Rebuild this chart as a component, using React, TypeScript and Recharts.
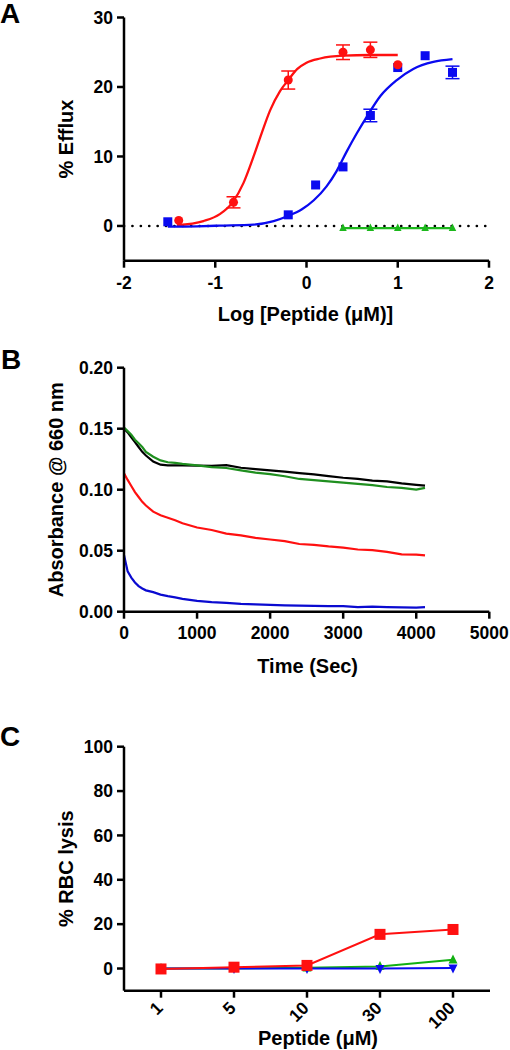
import { ComposedChart, LineChart, Line, Scatter, XAxis, YAxis, ErrorBar, ReferenceLine, Label } from 'recharts'

// fonts: Arial-like bold everywhere
const FONT = '"Liberation Sans", Arial, sans-serif'
const tickStyle = { fontFamily: FONT, fontWeight: 700, fontSize: 17.5, fill: '#000' }
const titleStyle = { fontFamily: FONT, fontWeight: 700, fontSize: 20, fill: '#000' }

// ---- Panel A: calcein efflux vs log[peptide] ----
const redFitX = [-1.42, -1.13, -0.95, -0.81, -0.69, -0.58, -0.49, -0.4, -0.29, -0.2, -0.1, 0.0, 0.15, 0.4, 0.7, 1.0]
const redFitY = [0.1, 0.7, 1.7, 3.4, 6.2, 10.0, 13.4, 16.6, 19.4, 21.0, 22.6, 23.5, 24.1, 24.5, 24.6, 24.6]
const blueFitX = [-1.52, -1.2, -0.95, -0.58, -0.36, -0.21, -0.05, 0.08, 0.22, 0.33, 0.44, 0.55, 0.66, 0.81, 0.99, 1.17, 1.39, 1.6]
const blueFitY = [-0.1, -0.05, 0.05, 0.2, 0.7, 1.4, 2.4, 3.7, 5.7, 7.9, 10.7, 13.3, 15.7, 18.7, 21.0, 22.6, 23.6, 24.0]

const redPtX = [-1.4, -0.8, -0.2, 0.4, 0.7, 1.0]
const redPtY = [0.8, 3.4, 21.0, 25.0, 25.35, 23.2]
const redPtErr = [0, 0.8, 1.3, 1.05, 1.1, 0]
const bluePtX = [-1.52, -0.2, 0.1, 0.4, 0.7, 1.0, 1.3, 1.6]
const bluePtY = [0.6, 1.6, 5.9, 8.5, 15.9, 22.8, 24.5, 22.1]
const bluePtErr = [0, 0, 0, 0, 0.9, 0, 0, 0.9]
const greenPtX = [0.4, 0.7, 1.0, 1.3, 1.6]
const greenPtY = [-0.3, -0.3, -0.3, -0.3, -0.3]

const logTicks = [-2, -1, 0, 1, 2]
const effluxTicks = [0, 10, 20, 30]

// ---- Panel B: absorbance time course ----
const timeSec = [0, 50, 100, 150, 200, 250, 300, 400, 500, 600, 700, 800, 1000, 1200, 1400, 1600, 1800, 2000, 2200, 2400, 2600, 2800, 3000, 3200, 3400, 3600, 3800, 4000, 4120]
const absBlack = [0.150, 0.147, 0.143, 0.139, 0.135, 0.131, 0.128, 0.123, 0.1205, 0.120, 0.120, 0.120, 0.1198, 0.1195, 0.1202, 0.118, 0.1168, 0.1158, 0.1148, 0.1136, 0.1126, 0.1112, 0.1098, 0.1088, 0.1075, 0.1068, 0.1052, 0.104, 0.1033]
const absGreen = [0.151, 0.148, 0.145, 0.141, 0.138, 0.135, 0.131, 0.127, 0.124, 0.1225, 0.122, 0.1212, 0.120, 0.1185, 0.1178, 0.1158, 0.114, 0.1128, 0.111, 0.1088, 0.1078, 0.1068, 0.1058, 0.1048, 0.1038, 0.1022, 0.1015, 0.100, 0.1015]
const absRed = [0.1134, 0.108, 0.103, 0.098, 0.094, 0.09, 0.087, 0.082, 0.079, 0.077, 0.075, 0.0725, 0.069, 0.067, 0.064, 0.0625, 0.0605, 0.0592, 0.0578, 0.0555, 0.0548, 0.0535, 0.0525, 0.051, 0.0505, 0.049, 0.047, 0.0468, 0.0462]
const absBlue = [0.0465, 0.033, 0.028, 0.024, 0.021, 0.019, 0.0175, 0.016, 0.014, 0.0128, 0.0118, 0.0105, 0.0088, 0.0078, 0.0072, 0.0064, 0.006, 0.0056, 0.0052, 0.005, 0.0048, 0.0045, 0.0046, 0.0038, 0.0042, 0.0038, 0.0036, 0.0034, 0.0038]

const timeTicks = [0, 1000, 2000, 3000, 4000, 5000]
const absTicks = [0, 0.05, 0.1, 0.15, 0.2]

// ---- Panel C: RBC lysis ----
const doses = ['1', '5', '10', '30', '100']
const lysisRed = [-0.2, 0.6, 1.4, 15.4, 17.6]
const lysisGreen = [0, 0, 0.3, 0.9, 3.9]
const lysisBlue = [0, 0, 0, 0, 0.2]
const lysisTicks = [0, 20, 40, 60, 80, 100]

const redFit = redFitX.map((x, i) => ({ x, y: redFitY[i] }))
const blueFit = blueFitX.map((x, i) => ({ x, y: blueFitY[i] }))
const redPts = redPtX.map((x, i) => ({ x, y: redPtY[i], err: redPtErr[i] }))
const bluePts = bluePtX.map((x, i) => ({ x, y: bluePtY[i], err: bluePtErr[i] }))
const greenPts = greenPtX.map((x, i) => ({ x, y: greenPtY[i] }))
const absData = timeSec.map((t, i) => ({ t, black: absBlack[i], green: absGreen[i], red: absRed[i], blue: absBlue[i] }))
const lysisData = doses.map((dose, i) => ({ dose, red: lysisRed[i], green: lysisGreen[i], blue: lysisBlue[i] }))

const axisLine = { stroke: '#000', strokeWidth: 2.5 }

const yTitle = (text: string, x: number) => (props: any) => {
  const vb = props.viewBox
  const cy = vb.y + vb.height / 2
  return (
    <text x={x} y={cy} transform={`rotate(-90, ${x}, ${cy})`} textAnchor="middle" style={titleStyle}>
      {text}
    </text>
  )
}

const xTitle = (text: string, dx = 0) => (props: any) => {
  const vb = props.viewBox
  return (
    <text x={vb.x + vb.width / 2 + dx} y={vb.y + vb.height} textAnchor="middle" style={titleStyle}>
      {text}
    </text>
  )
}

const square = (size: number, color: string) => (p: any) => (
  <rect key={`sq-${p.index}-${p.cx}`} x={p.cx - size / 2} y={p.cy - size / 2} width={size} height={size} fill={color} />
)
const circle = (r: number, color: string) => (p: any) => (
  <circle key={`c-${p.index}-${p.cx}`} cx={p.cx} cy={p.cy} r={r} fill={color} />
)
const triUp = (s: number, color: string) => (p: any) => (
  <polygon key={`tu-${p.index}-${p.cx}`} points={`${p.cx},${p.cy - s * 0.6} ${p.cx + s / 2},${p.cy + s * 0.4} ${p.cx - s / 2},${p.cy + s * 0.4}`} fill={color} />
)
const triDown = (s: number, color: string) => (p: any) => (
  <polygon key={`td-${p.index}-${p.cx}`} points={`${p.cx},${p.cy + s * 0.6} ${p.cx + s / 2},${p.cy - s * 0.4} ${p.cx - s / 2},${p.cy - s * 0.4}`} fill={color} />
)

const RotatedTick = (props: any) => {
  const { x, y, payload } = props
  const ax = x + 3
  const ay = y + 9.5
  return (
    <text x={ax} y={ay} transform={`rotate(-45, ${ax}, ${ay})`} textAnchor="end" style={tickStyle}>
      {payload.value}
    </text>
  )
}

const letterStyle = (top: number, left: number) => ({
  position: 'absolute' as const,
  top,
  left,
  fontFamily: FONT,
  fontWeight: 700,
  fontSize: 28,
  lineHeight: '28px',
})

export default function App() {
  return (
    <div style={{ position: 'absolute', left: 0, top: 0, width: 510, height: 1050, background: '#fff' }}>
      <div style={letterStyle(0, 0)}>A</div>
      <div style={letterStyle(346, 1)}>B</div>
      <div style={letterStyle(723, 0)}>C</div>

      <div style={{ position: 'absolute', left: 0, top: 0 }}>
        <ComposedChart width={510} height={340} margin={{ top: 17.5, right: 21, bottom: 19, left: 64 }}>
          <XAxis type="number" dataKey="x" domain={[-2, 2]} ticks={logTicks} allowDataOverflow
            axisLine={axisLine} tickLine={axisLine} tickSize={7} tickMargin={9} tick={tickStyle} height={60.3}>
            <Label content={xTitle('Log [Peptide (μM)]', -1)} />
          </XAxis>
          <YAxis type="number" domain={[-5, 30]} ticks={effluxTicks} allowDataOverflow width={60}
            axisLine={axisLine} tickLine={axisLine} tickSize={7} tickMargin={4} tick={tickStyle}>
            <Label content={yTitle('% Efflux', 73)} />
          </YAxis>
          <ReferenceLine y={0} stroke="#000" strokeWidth={2.6} strokeDasharray="0.1 8.3" strokeLinecap="round" />
          <Line data={redFit} dataKey="y" type="monotone" stroke="#ff1010" strokeWidth={2.3} dot={false} isAnimationActive={false} />
          <Line data={blueFit} dataKey="y" type="monotone" stroke="#0a0af0" strokeWidth={2.3} dot={false} isAnimationActive={false} />
          <Line data={greenPts} dataKey="y" type="linear" stroke="#1cb81c" strokeWidth={2.3} dot={false} isAnimationActive={false} />
          <Scatter data={greenPts} dataKey="y" shape={triUp(7.5, '#1cb81c')} isAnimationActive={false} />
          <Scatter data={bluePts} dataKey="y" shape={square(9, '#0a0af0')} isAnimationActive={false}>
            <ErrorBar dataKey="err" direction="y" width={7} stroke="#0a0af0" strokeWidth={1.5} />
          </Scatter>
          <Scatter data={redPts} dataKey="y" shape={circle(4.5, '#ff1010')} isAnimationActive={false}>
            <ErrorBar dataKey="err" direction="y" width={7} stroke="#ff1010" strokeWidth={1.5} />
          </Scatter>
        </ComposedChart>
      </div>

      <div style={{ position: 'absolute', left: 0, top: 340 }}>
        <LineChart width={510} height={340} data={absData} margin={{ top: 27.7, right: 20.7, bottom: 7.3, left: 64 }}>
          <XAxis type="number" dataKey="t" domain={[0, 5000]} ticks={timeTicks} allowDataOverflow
            axisLine={axisLine} tickLine={axisLine} tickSize={7} tickMargin={8} tick={tickStyle} height={61}>
            <Label content={xTitle('Time (Sec)', 1)} />
          </XAxis>
          <YAxis type="number" domain={[0, 0.2]} ticks={absTicks} allowDataOverflow width={60}
            tickFormatter={(v: number) => v.toFixed(2)}
            axisLine={axisLine} tickLine={axisLine} tickSize={7} tickMargin={4} tick={tickStyle}>
            <Label content={yTitle('Absorbance @ 660 nm', 63)} />
          </YAxis>
          <Line dataKey="black" type="linear" stroke="#000" strokeWidth={2.2} dot={false} isAnimationActive={false} />
          <Line dataKey="green" type="linear" stroke="#1f8f1f" strokeWidth={2.2} dot={false} isAnimationActive={false} />
          <Line dataKey="red" type="linear" stroke="#ff1010" strokeWidth={2.2} dot={false} isAnimationActive={false} />
          <Line dataKey="blue" type="linear" stroke="#0a0ad0" strokeWidth={2.2} dot={false} isAnimationActive={false} />
        </LineChart>
      </div>

      <div style={{ position: 'absolute', left: 0, top: 680 }}>
        <LineChart width={510} height={370} data={lysisData} margin={{ top: 66.7, right: 20, bottom: 5.3, left: 64 }}>
          <XAxis dataKey="dose" type="category" interval={0} padding={{ left: 37, right: 37 }}
            axisLine={axisLine} tickLine={axisLine} tickSize={7} tick={RotatedTick} height={54}>
            <Label content={xTitle('Peptide (μM)', 11)} />
          </XAxis>
          <YAxis type="number" domain={[-10, 100]} ticks={lysisTicks} allowDataOverflow width={60}
            axisLine={axisLine} tickLine={axisLine} tickSize={7} tickMargin={4} tick={tickStyle}>
            <Label content={yTitle('% RBC lysis', 73)} />
          </YAxis>
          <Line dataKey="green" type="linear" stroke="#12b012" strokeWidth={2} dot={triUp(9, '#12b012')} isAnimationActive={false} />
          <Line dataKey="blue" type="linear" stroke="#0a0af0" strokeWidth={2} dot={triDown(9, '#0a0af0')} isAnimationActive={false} />
          <Line dataKey="red" type="linear" stroke="#ff1010" strokeWidth={2} dot={square(11, '#ff1010')} isAnimationActive={false} />
        </LineChart>
      </div>
    </div>
  )
}
